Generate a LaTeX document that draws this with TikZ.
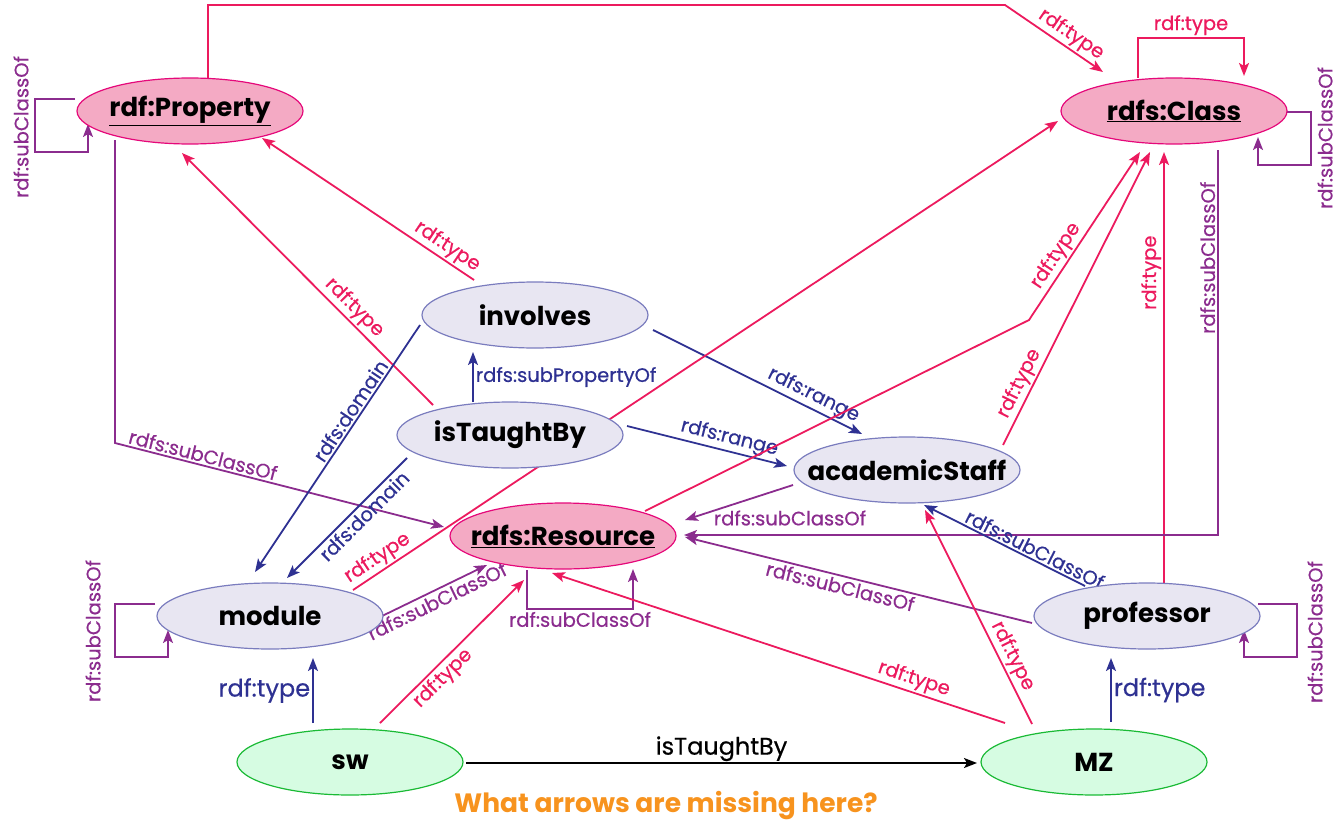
\documentclass[tikz,border=0pt]{standalone}
\usepackage{fontspec}
\setmainfont{Poppins}
\newfontfamily\lblfam{Poppins}[FakeBold=0.5]
\usetikzlibrary{shapes.geometric,arrows.meta,calc}
\definecolor{pkf}{HTML}{F4AAC4}
\definecolor{pkb}{HTML}{E5087A}
\definecolor{lvf}{HTML}{E8E6F2}
\definecolor{lvb}{HTML}{7A7CBE}
\definecolor{grf}{HTML}{D6FCE2}
\definecolor{grb}{HTML}{1ABA35}
\definecolor{pk}{HTML}{EC1A5E}
\definecolor{pu}{HTML}{8B2C8E}
\definecolor{nv}{HTML}{2E3192}
\definecolor{org}{HTML}{F7931E}
\newcommand\nodefnt{\fontsize{26}{30}\selectfont\bfseries}
\newcommand\lblfnt{\lblfam\fontsize{19.5}{23}\selectfont}
\newcommand\bigfnt{\lblfam\fontsize{24}{28}\selectfont}
\newcommand\nt[1]{\makebox[0pt]{#1}}
\pgfdeclarelayer{bg}
\pgfsetlayers{bg,main}
\tikzset{
  ov/.style={ellipse, line width=1.2pt, minimum width=226pt, minimum height=66pt, inner sep=0pt, font=\nodefnt, text=black},
  clsnode/.style={ov, draw=pkb, fill=pkf},
  prpnode/.style={ov, draw=lvb, fill=lvf},
  insnode/.style={ov, draw=grb, fill=grf},
  ln/.style={line width=1.8pt, -{Stealth[length=13pt,width=10pt,inset=3pt]}},
  tp/.style={ln, color=pk},
  sc/.style={ln, color=pu},
  nvl/.style={ln, color=nv},
  lb/.style={font=\lblfnt, inner sep=2pt, sloped},
  lbh/.style={font=\lblfnt, inner sep=2pt},
}
\begin{document}
\begin{tikzpicture}[x=1pt,y=-1pt]
\useasboundingbox (0,0) rectangle (1337,824);
\node[clsnode] (prop) at (190,111) {\nt{\underline{rdf:Property}}};
\node[clsnode] (cls) at (1174,111) {\nt{\underline{rdfs:Class}}};
\node[prpnode] (inv) at (535,315) {\nt{involves}};
\node[prpnode] (itb) at (510,435) {\nt{isTaughtBy}};
\node[prpnode] (acad) at (907,470) {\nt{academicStaff}};
\node[clsnode] (res) at (563,536) {\nt{\underline{rdfs:Resource}}};
\node[prpnode] (mod) at (270,616) {\nt{module}};
\node[prpnode] (prof) at (1147,616) {\nt{professor}};
\node[insnode] (sw) at (350,762) {\nt{sw}};
\node[insnode] (mz) at (1094,762) {\nt{MZ}};
\coordinate (tl) at (1005,5);
\coordinate (bk) at (1029,320);
\node[font=\fontsize{26.5}{30}\selectfont\bfseries, text=org] (q) at (666,806) {What arrows are missing here?};
\begin{pgfonlayer}{bg}
% Property rdf:type Class
\draw[tp] ($(prop)+(18,-33)$) |- (tl) -- node[lb,above,pos=0.6]{rdf:type} ($(cls)+(-71,-39)$);
% Class self type
\draw[tp] ($(cls)+(-36,-33)$) -- ++(0,-40) -| node[lb,above,pos=0.25]{rdf:type} ($(cls)+(70,-35)$);
% Class self subclass
\draw[sc] ($(cls)+(113,1)$) -| ($(cls)+(137,54)$) -| ($(cls)+(84,26)$);
% Property self subclass
\draw[sc] ($(prop)+(-115,-12)$) -| ($(prop)+(-155,41)$) -| ($(prop)+(-102,13)$);
% Property subClassOf Resource
\draw[sc] ($(prop)+(-75,29)$) -- ($(prop)+(-75,332)$) -- node[lb,above,pos=0.26]{rdfs:subClassOf} ($(res)+(-119,-9)$);
% involves type Property
\draw[tp] ($(inv)+(-61,-35)$) -- node[lb,above,pos=0.16]{rdf:type} ($(prop)+(72,27)$);
% isTaughtBy type Property
\draw[tp] ($(itb)+(-77,-30)$) -- node[lb,above,pos=0.35]{rdf:type} ($(prop)+(-8,42)$);
% subPropertyOf
\draw[nvl] ($(itb)+(-37,-33)$) -- node[lbh,right,pos=0.5]{rdfs:subPropertyOf} ($(inv)+(-62,37)$);
% domains
\draw[nvl] ($(inv)+(-115,10)$) -- node[lb,above,pos=0.37]{rdfs:domain} ($(mod)+(-15,-44)$);
\draw[nvl] ($(itb)+(-103,23)$) -- node[lb,below,pos=0.42]{rdfs:domain} ($(mod)+(17,-38)$);
% ranges
\draw[nvl] ($(inv)+(118,15)$) -- node[lb,above,pos=0.74]{rdfs:range} ($(acad)+(-45,-36)$);
\draw[nvl] ($(itb)+(117,-9)$) -- node[lb,above,pos=0.62]{rdfs:range} ($(acad)+(-120,-4)$);
% module type Class
\draw[tp] ($(mod)+(83,-26)$) -- node[lb,above,pos=0.045]{rdf:type} ($(cls)+(-116,10)$);
% Resource type Class
\draw[tp] ($(res)+(82,-25)$) -- (bk) -- node[lb,above,pos=0.34]{rdf:type} ($(cls)+(-34,41)$);
% academicStaff type Class
\draw[tp] ($(acad)+(96,-25)$) -- node[lb,above,pos=0.19]{rdf:type} ($(cls)+(-24,41)$);
% professor type Class
\draw[tp] ($(prof)+(17,-33)$) -- node[lb,above,pos=0.72]{rdf:type} ($(cls)+(-10,41)$);
% Class subClassOf Resource
\draw[sc] ($(cls)+(44,39)$) |- node[lbh,rotate=90,anchor=south,pos=0.14]{rdfs:subClassOf} ($(res)+(121,-1)$);
% academicStaff subClassOf Resource
\draw[sc] ($(acad)+(-114,15)$) -- ($(res)+(122,-16)$);
% professor subClassOf Resource
\draw[sc] ($(prof)+(-115,7)$) -- node[lb,below,pos=0.545]{rdfs:subClassOf} ($(res)+(122,1)$);
% professor subClassOf academicStaff
\draw[nvl] ($(prof)+(-62,-30)$) -- node[lb,above,pos=0.34]{rdfs:subClassOf} ($(acad)+(17,35)$);
% module subClassOf Resource
\draw[sc] ($(mod)+(110,1)$) -- node[lb,below,pos=0.49]{rdfs:subClassOf} ($(res)+(-76,29)$);
% module self
\draw[sc] ($(mod)+(-115,-12)$) -| ($(mod)+(-155,41)$) -| ($(mod)+(-102,14)$);
% Resource self
\draw[sc] ($(res)+(-36,34)$) -- ++(0,39) -| node[lbh,below,pos=0.25]{rdf:subClassOf} ($(res)+(70,33)$);
% professor self
\draw[sc] ($(prof)+(111,-12)$) -| ($(prof)+(150,41)$) -| ($(prof)+(97,14)$);
% sw type module
\draw[nvl] ($(sw)+(-37,-39)$) -- node[lbh,left,font=\bigfnt]{rdf:type} ($(mod)+(43,42)$);
% sw type Resource
\draw[tp] ($(sw)+(30,-39)$) -- node[lb,below,pos=0.375]{rdf:type} ($(res)+(-39,44)$);
% MZ type Resource
\draw[tp] ($(mz)+(-89,-39)$) -- node[lb,above,pos=0.21]{rdf:type} ($(res)+(-11,37)$);
% MZ type academicStaff
\draw[tp] ($(mz)+(-62,-38)$) -- node[lb,above,pos=0.29]{rdf:type} ($(acad)+(18,40)$);
% MZ type professor
\draw[nvl] ($(mz)+(17,-40)$) -- node[lbh,right,font=\bigfnt]{rdf:type} ($(prof)+(-36,42)$);
% sw isTaughtBy MZ
\draw[ln, black] ($(sw)+(116,1)$) -- node[above,font=\bigfnt,inner sep=1pt]{isTaughtBy} ($(mz)+(-117,1)$);
\end{pgfonlayer}
% loose labels
\node[lbh, text=pu, rotate=90, inner sep=0pt] (l1) at (1325,138) {rdf:subClassOf};
\node[lbh, text=pu, rotate=90, inner sep=0pt] (l2) at (21,127) {rdf:subClassOf};
\node[lbh, text=pu, rotate=90, inner sep=0pt] (l3) at (93,631) {rdf:subClassOf};
\node[lbh, text=pu, rotate=90, inner sep=0pt] (l4) at (1315,632) {rdf:subClassOf};
\node[lbh, text=pu] (l5) at (790,518) {rdfs:subClassOf};
\end{tikzpicture}
\end{document}
